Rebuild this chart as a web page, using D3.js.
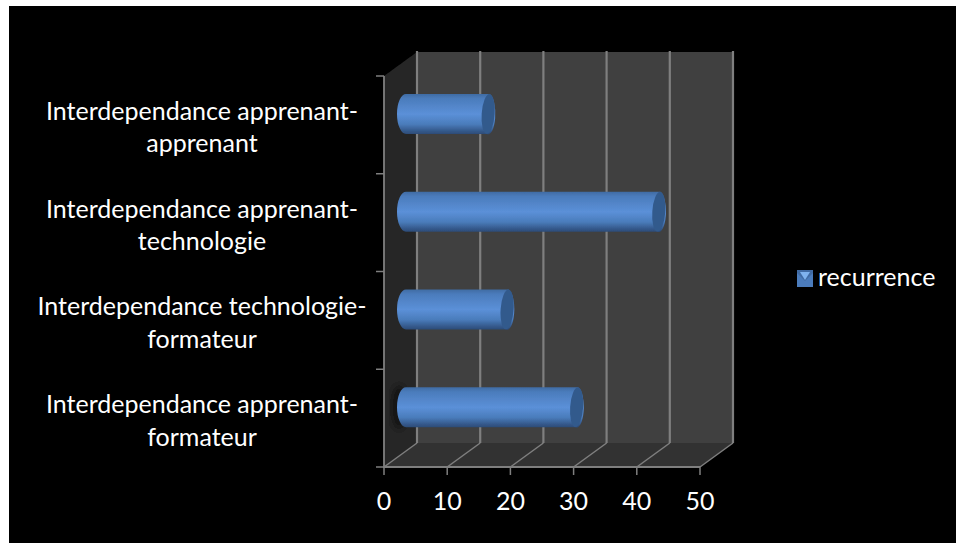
<!DOCTYPE html>
<html>
<head>
<meta charset="utf-8">
<style>html,body{margin:0;padding:0;background:#fff}svg{display:block}</style>
<script src="https://cdn.jsdelivr.net/npm/d3@7/dist/d3.min.js"></script>
</head>
<body>
<svg id="chart" width="956" height="543"></svg>
<script>
const categories = [
  ["Interdependance apprenant-", "apprenant"],
  ["Interdependance apprenant-", "technologie"],
  ["Interdependance technologie-", "formateur"],
  ["Interdependance apprenant-", "formateur"]
];
const recurrence = [13, 40, 16, 27];
const valueTicks = [0, 10, 20, 30, 40, 50];
const seriesName = "recurrence";

const svg = d3.select("#chart");
const defs = svg.append("defs");

const tube = defs.append("linearGradient").attr("id", "tube")
  .attr("x1", 0).attr("y1", 0).attr("x2", 0).attr("y2", 1);
[[0, "#3f6ba3"], [0.12, "#4b7cbc"], [0.5, "#5b90d8"], [0.75, "#4a7cbb"], [0.92, "#34588a"], [1, "#2b4a75"]]
  .forEach(([o, c]) => tube.append("stop").attr("offset", o).attr("stop-color", c));

defs.append("filter").attr("id", "soft").append("feGaussianBlur").attr("stdDeviation", 0.5);
defs.append("filter").attr("id", "halo").append("feGaussianBlur").attr("stdDeviation", 3);

// Chart area
svg.append("rect").attr("x", 9).attr("y", 6).attr("width", 947).attr("height", 537).attr("fill", "#000");

const plotTop = 76, plotBottom = 467, depthX = 33, depthY = 24;
const x = d3.scaleLinear().domain([0, 50]).range([384, 700]);
const y = d3.scaleBand().domain(d3.range(categories.length)).range([plotTop, plotBottom]);

const root = svg.append("g").attr("filter", "url(#soft)");

// Box walls
root.append("polygon").attr("fill", "#262626").attr("points", [
  [x(0), plotTop], [x(0) + depthX, plotTop - depthY],
  [x(0) + depthX, plotBottom - depthY], [x(0), plotBottom]].join(" "));
root.append("polygon").attr("fill", "#333333").attr("points", [
  [x(0), plotBottom], [x(0) + depthX, plotBottom - depthY],
  [x(50) + depthX, plotBottom - depthY], [x(50), plotBottom]].join(" "));
root.append("rect").attr("fill", "#404040")
  .attr("x", x(0) + depthX).attr("y", plotTop - depthY)
  .attr("width", x(50) - x(0)).attr("height", plotBottom - plotTop);

const grid = "#7f7f7f";
// Gridlines run along the floor and up the back wall
root.append("g").selectAll("path").data(valueTicks).join("path")
  .attr("fill", "none").attr("stroke", grid).attr("stroke-width", 1.5)
  .attr("d", d => `M${x(d)},${plotBottom}L${x(d) + depthX},${plotBottom - depthY}`);
root.append("g").selectAll("path").data(valueTicks).join("path")
  .attr("fill", "none").attr("stroke", grid).attr("stroke-width", 2.2)
  .attr("d", d => `M${x(d) + depthX},${plotBottom - depthY}V${plotTop - depthY - 1}`);

// Front axes with outward ticks
root.append("path").attr("fill", "none").attr("stroke", grid).attr("stroke-width", 1.8)
  .attr("d", `M${x(0)},${plotTop}V${plotBottom}H${x(50)}`);
root.append("g").selectAll("path").data(valueTicks).join("path")
  .attr("stroke", grid).attr("stroke-width", 1.5)
  .attr("d", d => `M${x(d)},${plotBottom}v8`);
root.append("g").selectAll("path").data(d3.range(categories.length + 1)).join("path")
  .attr("stroke", grid).attr("stroke-width", 1.5)
  .attr("d", i => `M${x(0) - 8},${plotTop + i * y.step()}h8`);

// Cylindrical bars
const barH = 40, capRx = 7, startRx = 9, barDx = 22, barDy = -11;
const barY = i => y(i) + y.bandwidth() / 2 + barDy;
const bars = root.append("g").selectAll("g").data(recurrence).join("g");
bars.filter((d, i) => i === recurrence.length - 1).append("ellipse")
  .attr("cx", x(0) + barDx - 7)
  .attr("cy", barY(3))
  .attr("rx", startRx - 1).attr("ry", barH / 2 + 2)
  .attr("fill", "#000").attr("opacity", 0.45).attr("filter", "url(#halo)");
bars.append("path").attr("fill", "url(#tube)")
  .attr("d", (d, i) => {
    const cy = barY(i), r = barH / 2;
    const xa = x(0) + barDx, xb = x(d) + barDx;
    return `M${xa},${cy - r}L${xb + 1.5},${cy - r}A${capRx},${r} 0 0 1 ${xb - 1.5},${cy + r}L${xa},${cy + r}A${startRx},${r} 0 0 1 ${xa},${cy - r}Z`;
  });
bars.append("ellipse").attr("fill", "#335a8c")
  .attr("transform", (d, i) => `rotate(4 ${x(d) + barDx} ${barY(i)})`)
  .attr("cx", d => x(d) + barDx)
  .attr("cy", (d, i) => barY(i))
  .attr("rx", capRx - 0.5).attr("ry", barH / 2);

// Text
const font = "Lato, 'Open Sans', sans-serif";
const fontSize = 25;
const catLabels = svg.append("g").attr("fill", "#fff").attr("font-family", font)
  .attr("font-size", fontSize).attr("text-anchor", "middle");
catLabels.selectAll("g").data(categories).join("g")
  .each(function (lines, i) {
    const cy = y(i) + y.bandwidth() / 2;
    d3.select(this).selectAll("text").data(lines).join("text")
      .attr("x", 202).attr("y", (l, k) => cy + (k === 0 ? -5 : 27.5))
      .text(l => l);
  });
svg.append("g").attr("fill", "#fff").attr("font-family", font).attr("font-size", fontSize)
  .attr("text-anchor", "middle")
  .selectAll("text").data(valueTicks).join("text")
  .attr("x", d => x(d)).attr("y", 510).text(d => d);

// Legend key with its bevelled face
const key = svg.append("g").attr("transform", "translate(797,270)").attr("filter", "url(#soft)");
key.append("rect").attr("width", 16).attr("height", 17).attr("fill", "#4b7cbc");
key.append("path").attr("d", "M0,0H16V3L8,11L0,3Z").attr("fill", "#3f6ba3");
key.append("path").attr("d", "M3,2H13L8,10Z").attr("fill", "#7fb2ee");

svg.append("text").attr("x", 818).attr("y", 286).attr("fill", "#fff")
  .attr("font-family", font).attr("font-size", fontSize).text(seriesName);
</script>
</body>
</html>
